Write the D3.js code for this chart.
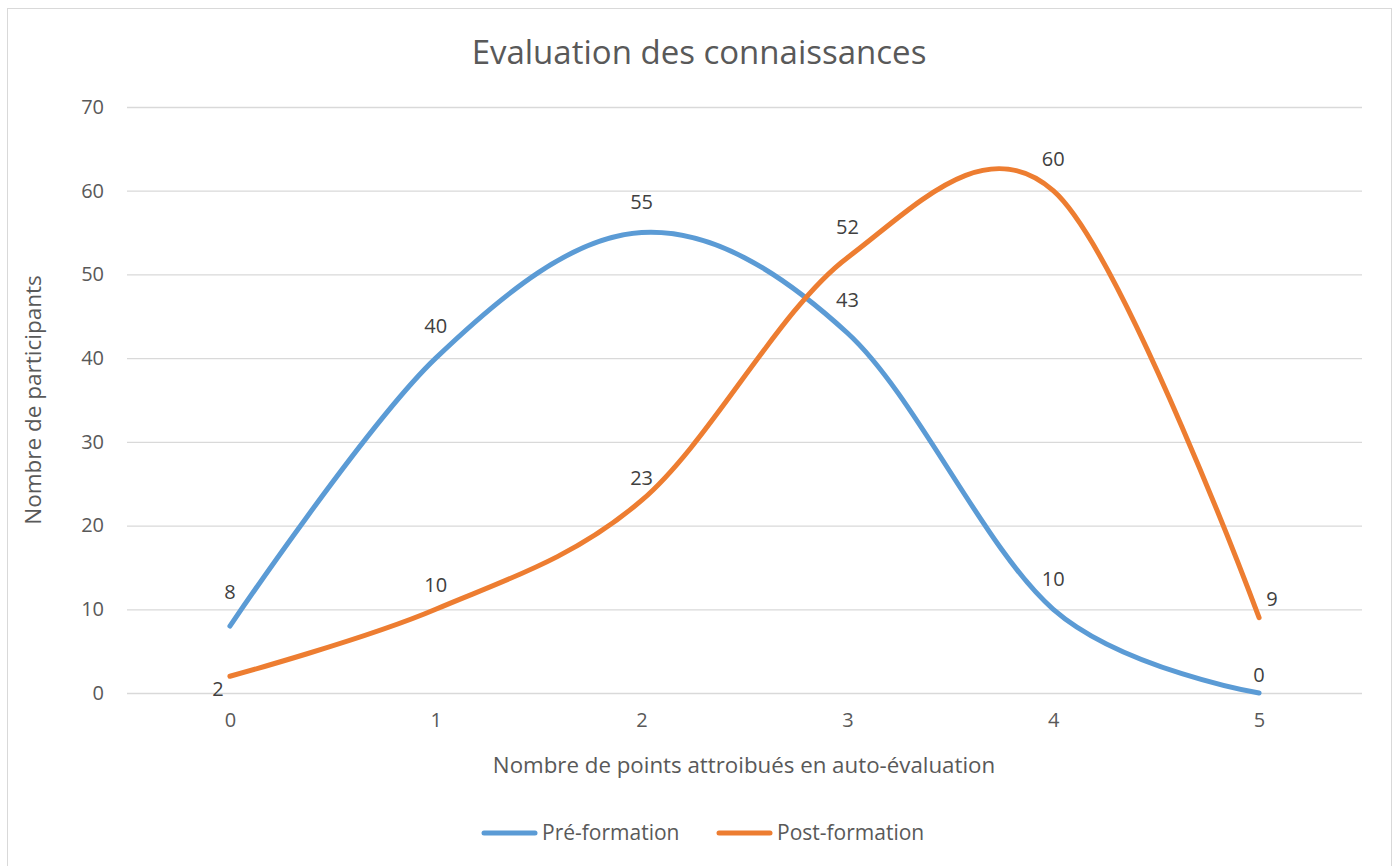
<html>
  <head>
    <meta charset="utf-8">
    <title>Evaluation des connaissances</title>
    <style type="text/css">
      body { margin: 0; background: #fff; }
      text { font-family: "Open Sans", "Noto Sans", sans-serif; }
    </style>
    <script src="https://d3js.org/d3.v7.min.js"></script>
  </head>
  <body>
    <svg class="chart" width="1400" height="866"></svg>
    <script>

// data
var categories = [0, 1, 2, 3, 4, 5];
var preFormation = [8, 40, 55, 43, 10, 0];
var postFormation = [2, 10, 23, 52, 60, 9];
var seriesNames = ["Pré-formation", "Post-formation"];
var yTicks = [0, 10, 20, 30, 40, 50, 60, 70];

// label nudges (px) so data labels sit where the original puts them
var preLabelShift = [[0, -34], [0, -32], [0, -31], [0, -33], [0, -30], [0, -18]];
var postLabelShift = [[-12, 13], [0, -24], [0, -22], [0, -31], [0, -32], [13, -19]];

var colors = ["#5b9bd5", "#ed7d31"];

var margin = {top: 107, right: 38, bottom: 173, left: 127},
    width = 1400 - margin.left - margin.right,
    height = 866 - margin.top - margin.bottom;

var svg = d3.select(".chart");

// chart frame
svg.append("rect")
  .attr("x", 7.5).attr("y", 8.5)
  .attr("width", 1384).attr("height", 870)
  .attr("fill", "#fff")
  .attr("stroke", "#d9d9d9")
  .attr("stroke-width", 1);

var g = svg.append("g")
  .attr("transform", "translate(" + margin.left + "," + margin.top + ")");

var x = d3.scalePoint()
  .domain(categories)
  .range([0, width])
  .padding(0.5);

var y = d3.scaleLinear()
  .domain([0, 70])
  .range([height, 0]);

// gridlines
g.selectAll(".grid")
  .data(yTicks)
  .enter().append("line")
    .attr("x1", 0).attr("x2", width)
    .attr("y1", function(d) { return y(d) + 0.5; })
    .attr("y2", function(d) { return y(d) + 0.5; })
    .attr("stroke", "#d9d9d9")
    .attr("stroke-width", 1.3);

// y axis
var yAxis = g.append("g")
  .call(d3.axisLeft(y).tickValues(yTicks).tickSize(0).tickPadding(23));
yAxis.select(".domain").remove();
yAxis.selectAll("text")
  .attr("fill", "#595959")
  .style("font-size", "20px");

// x axis
var xAxis = g.append("g")
  .attr("transform", "translate(0," + height + ")")
  .call(d3.axisBottom(x).tickSize(0).tickPadding(20));
xAxis.select(".domain").remove();
xAxis.selectAll("text")
  .attr("fill", "#595959")
  .style("font-size", "20px");

// lines
var line = d3.line()
  .x(function(d, i) { return x(categories[i]); })
  .y(function(d) { return y(d); })
  .curve(d3.curveCardinal.tension(0));

[preFormation, postFormation].forEach(function(values, s) {
  g.append("path")
    .datum(values)
    .attr("fill", "none")
    .attr("stroke", colors[s])
    .attr("stroke-width", 5)
    .attr("stroke-linecap", "round")
    .attr("stroke-linejoin", "round")
    .attr("d", line);
});

// data labels
[[preFormation, preLabelShift], [postFormation, postLabelShift]].forEach(function(pair) {
  var values = pair[0], shift = pair[1];
  g.selectAll(null)
    .data(values)
    .enter().append("text")
      .attr("x", function(d, i) { return x(categories[i]) + shift[i][0]; })
      .attr("y", function(d, i) { return y(d) + shift[i][1]; })
      .attr("dy", "0.35em")
      .attr("text-anchor", "middle")
      .attr("fill", "#404040")
      .style("font-size", "20px")
      .text(function(d) { return d; });
});

// title
svg.append("text")
  .attr("x", 699).attr("y", 52)
  .attr("dy", "0.35em")
  .attr("text-anchor", "middle")
  .attr("fill", "#595959")
  .style("font-size", "33px")
  .text("Evaluation des connaissances");

// axis titles
svg.append("text")
  .attr("transform", "translate(33," + (margin.top + height / 2) + ") rotate(-90)")
  .attr("dy", "0.35em")
  .attr("text-anchor", "middle")
  .attr("fill", "#595959")
  .style("font-size", "22.5px")
  .text("Nombre de participants");

svg.append("text")
  .attr("x", 744).attr("y", 765)
  .attr("dy", "0.35em")
  .attr("text-anchor", "middle")
  .attr("fill", "#595959")
  .style("font-size", "22.3px")
  .text("Nombre de points attroibués en auto-évaluation");

// legend
var legendX = [482, 717];
seriesNames.forEach(function(name, s) {
  var lg = svg.append("g").attr("transform", "translate(" + legendX[s] + ",833)");
  lg.append("line")
    .attr("x1", 2).attr("x2", 53)
    .attr("y1", 0).attr("y2", 0)
    .attr("stroke", colors[s])
    .attr("stroke-width", 5)
    .attr("stroke-linecap", "round");
  lg.append("text")
    .attr("x", 60).attr("y", 0)
    .attr("dy", "0.35em")
    .attr("fill", "#595959")
    .style("font-size", "21px")
    .text(name);
});

</script>
  </body>
</html>
